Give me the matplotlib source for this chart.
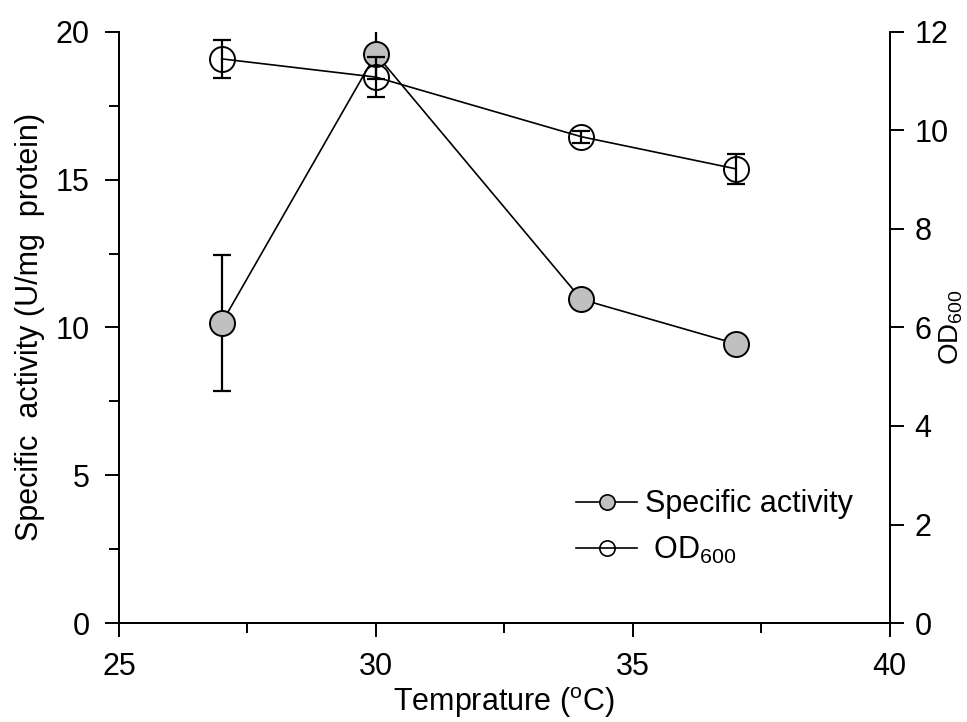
import matplotlib
matplotlib.use('Agg')
import matplotlib.pyplot as plt
from matplotlib.lines import Line2D

plt.rcParams['font.family'] = ['Liberation Sans', 'DejaVu Sans']
plt.rcParams['mathtext.fontset'] = 'custom'
plt.rcParams['mathtext.rm'] = 'Liberation Sans'

# data
temps = [27, 30, 34, 37]
activity = [10.15, 19.25, 10.95, 9.45]
activity_err = [2.3, 0.85, 0.3, 0.2]
od600 = [11.45, 11.08, 9.87, 9.22]
od600_err = [0.38, 0.4, 0.12, 0.3]

x_ticks = [25, 30, 35, 40]
left_ticks = [0, 5, 10, 15, 20]
right_ticks = [0, 2, 4, 6, 8, 10, 12]

fig = plt.figure(figsize=(9.67, 7.22), dpi=100)
ax = fig.add_axes([0.123, 0.137, 0.797, 0.819])
ax2 = ax.twinx()

# specific activity, grey filled circles (left axis)
ax.errorbar(temps, activity, yerr=activity_err, fmt='none', ecolor='black',
            elinewidth=1.6, capsize=6.5, capthick=1.6, zorder=2)
ax.plot(temps, activity, color='black', lw=1.2, marker='o', ms=18,
        mfc='#c0c0c0', mec='black', mew=1.4, zorder=3)

# OD600, open circles (right axis)
ax2.errorbar(temps, od600, yerr=od600_err, fmt='none', ecolor='black',
             elinewidth=1.6, capsize=6.5, capthick=1.6, zorder=2)
ax2.plot(temps, od600, color='black', lw=1.2, marker='o', ms=18,
         fillstyle='none', mec='black', mew=1.4, zorder=3)

ax.set_xlim(25, 40)
ax.set_ylim(0, 20)
ax2.set_ylim(0, 12)
ax.set_xticks(x_ticks)
ax.set_xticks([27.5, 32.5, 37.5], minor=True)
ax.set_yticks(left_ticks)
ax.set_yticks([2.5, 7.5, 12.5, 17.5], minor=True)
ax2.set_yticks(right_ticks)

for a in (ax, ax2):
    a.spines['top'].set_visible(False)
    for s in a.spines.values():
        s.set_linewidth(1.4)

ax.tick_params(axis='both', which='major', direction='out', length=10, width=1.4,
               labelsize=22, pad=11)
ax.tick_params(axis='both', which='minor', direction='out', length=7, width=1.4)
ax2.tick_params(axis='y', which='major', direction='out', length=10, width=1.4,
                labelsize=22, pad=8)

ax.set_xlabel('Temprature ($\\mathregular{^{o}}$C)', fontsize=22, labelpad=2)
ax.set_ylabel('Specific  activity (U/mg  protein)', fontsize=22, labelpad=8)
ax2.set_ylabel('OD$_{600}$', fontsize=20)
ax2.yaxis.set_label_coords(1.062, 0.5)

# legend with smaller markers
h1 = Line2D([], [], color='black', lw=1.2, marker='o', ms=11,
            mfc='#c0c0c0', mec='black', mew=1.2)
h2 = Line2D([], [], color='black', lw=1.2, marker='o', ms=11,
            fillstyle='none', mec='black', mew=1.2)
ax2.legend([h1, h2], ['Specific activity', ' OD$_{600}$'], loc='upper left',
           bbox_to_anchor=(0.593, 0.226), frameon=False, fontsize=22,
           handlelength=2.0, handletextpad=0.25, labelspacing=0.5,
           borderpad=0, borderaxespad=0)

fig.savefig('out.png', dpi=100)
